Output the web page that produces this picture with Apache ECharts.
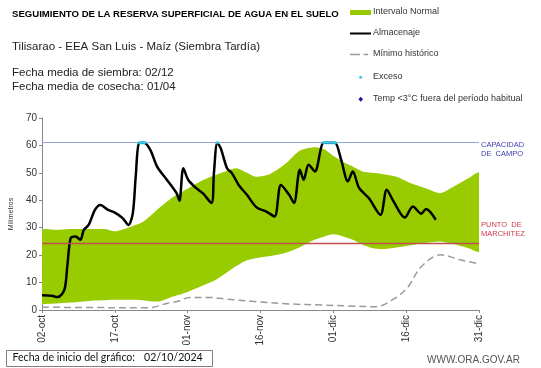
<!DOCTYPE html>
<html><head><meta charset="utf-8">
<script src="https://cdn.jsdelivr.net/npm/echarts@6/dist/echarts.min.js"></script>
<style>html,body{margin:0;padding:0;background:#fff}#c{width:541px;height:368px}</style>
</head><body><div id="c"></div>
<script>
// Tick labels of the x axis (one every 15 days from 02-oct)
const xTickLabels = ['02-oct','17-oct','01-nov','16-nov','01-dic','16-dic','31-dic'];

// Intervalo normal (days since 02-oct)
const bandDays = [0,3,6,10,13,15,18,21,24,27,30,33,36,40,42,44,47,50,53,56,58,60,62,64,66,68,70,73,76,79,82,84,86,88,90];
const bandLow  = [2.2,2.4,2.7,3.4,3.6,3.7,3.7,3.5,3.1,4.9,6.6,8.8,11.2,16.0,18.0,18.9,19.7,20.8,22.8,25.5,26.7,27.6,26.8,25.6,23.8,22.6,22.2,22.8,23.6,24.5,25.0,24.4,23.4,22.4,21.3];
const bandHigh = [29.0,29.2,29.5,29.5,29.5,28.7,30.2,32.4,37.0,41.2,44.2,47.2,49.4,51.7,50.2,48.6,49.6,53.1,58.0,59.3,58.7,56.2,54.0,52.3,50.5,50.0,49.6,48.6,46.2,44.4,42.6,44.2,46.2,48.2,50.0];

// Almacenaje
const storageDays   = [0,2,3.2,4.6,5.2,5.9,6.9,7.9,8.6,9.6,10.9,12,13.6,15,16.6,17.8,18.7,19.3,20,21,22.3,23.7,25.7,27.7,28.3,29.1,30.1,31.7,33.1,34.9,35.4,36.1,36.8,38.1,39.1,40.5,42.2,44.2,46.2,47.9,49.2,50.9,51.9,53.1,53.9,54.9,56.2,57.9,58.9,60.3,61.6,63,64,65.3,67.3,69.7,71,72.4,74.7,76.4,78.1,79.1,81.1];
const storageValues = [5.4,5.2,4.7,7.3,15.8,26.2,26.8,25.6,29.2,31.0,36.5,38.3,36.5,35.5,33.5,31.0,35.3,48.7,60.9,61.0,58.4,52.3,47.5,42.6,39.8,51.7,47.5,44.5,42.6,39.0,49.9,60.9,59.0,51.7,49.9,45.6,42.0,37.4,35.9,34.1,45.6,42.0,39.0,51.1,47.5,53.0,50.5,60.9,61.0,61.0,54.8,46.9,50.5,44.5,40.8,34.7,43.8,39.6,33.7,37.7,35.1,36.8,32.9];

// Mínimo histórico
const minDays   = [0,10,22,25.7,28,30.4,34.4,37.8,44.5,51.2,57.9,63,68.7,72.7,75.4,78.1,82.1,86.1,90];
const minValues = [1.0,0.9,0.8,2.4,3.2,4.6,4.6,4.0,3.0,2.2,1.8,1.5,1.2,4.3,8.5,15.8,20.1,18.3,16.8];

// Exceso
const excessDays   = [20.0,20.4,20.8,21.2,36.1,58.0,58.5,59.0,59.5,60.0,60.4];
const excessValues = [61,61,61,61,61,61,61,61,61,61,61];

// Reference levels
const fieldCapacity = 61;
const wiltingPoint = 24.3;

const pair = (xs, ys) => xs.map((x, i) => [x, ys[i]]);
const GREEN = '#99cc00';
const FONT = 'Liberation Sans, Arial, sans-serif';

const chart = echarts.init(document.getElementById('c'), null, {renderer: 'canvas'});
chart.setOption({
  animation: false,
  backgroundColor: '#fff',
  grid: {left: 32, right: 62, top: 118, bottom: 58, containLabel: false},
  xAxis: {
    type: 'value', min: 0, max: 90, interval: 15,
    splitLine: {show: false},
    axisLine: {show: true, lineStyle: {color: '#888', width: 1}},
    axisTick: {show: true, length: 3, lineStyle: {color: '#888'}},
    axisLabel: {rotate: 90, fontSize: 10, color: '#333', fontFamily: FONT, margin: 5,
      formatter: v => xTickLabels[Math.round(v / 15)] || ''}
  },
  yAxis: {
    type: 'value', min: 0, max: 70, interval: 10,
    name: 'Milímetros', nameLocation: 'middle', nameGap: 26,
    nameTextStyle: {fontSize: 7, color: '#333', fontFamily: FONT},
    splitLine: {show: false},
    axisLine: {show: true, lineStyle: {color: '#888', width: 1}},
    axisTick: {show: true, length: 3, lineStyle: {color: '#888'}},
    axisLabel: {fontSize: 10, color: '#333', fontFamily: FONT, margin: 5}
  },
  series: [
    {name: 'Intervalo Normal', type: 'custom', clip: true, silent: true, z: 1,
     data: [0],
     renderItem: (params, api) => {
       const top = bandDays.map((d, i) => api.coord([d, bandHigh[i]]));
       const bottom = bandDays.map((d, i) => api.coord([d, bandLow[i]])).reverse();
       const pts = top.concat(bottom);
       let minX = Infinity, minY = Infinity, maxX = -Infinity, maxY = -Infinity;
       pts.forEach(p => { minX = Math.min(minX, p[0]); maxX = Math.max(maxX, p[0]); minY = Math.min(minY, p[1]); maxY = Math.max(maxY, p[1]); });
       return {type: 'polygon',
         shape: {points: pts, smooth: 0.25, smoothConstraint: [[minX, minY], [maxX, maxY]]},
         style: {fill: GREEN, stroke: null}};
     }},
    {name: 'Mínimo histórico', type: 'line', data: pair(minDays, minValues),
     symbol: 'none', smooth: 0.35,
     lineStyle: {color: '#9a9a9a', width: 1.5, type: [7, 4]}, z: 3},
    {name: 'Almacenaje', type: 'line', data: pair(storageDays, storageValues),
     symbol: 'none', smooth: 0.3,
     lineStyle: {color: '#000', width: 2.5}, z: 4,
     markLine: {
       silent: true, symbol: 'none', label: {show: false},
       data: [
         {yAxis: fieldCapacity, lineStyle: {color: '#8fa6d6', width: 1, type: 'solid'}},
         {yAxis: wiltingPoint, lineStyle: {color: '#c0504d', width: 1.3, type: 'solid'}}
       ]
     }},
    {name: 'Exceso', type: 'scatter', data: pair(excessDays, excessValues),
     symbol: 'circle', symbolSize: 3.5, itemStyle: {color: '#33ccee'}, z: 5}
  ],
  graphic: [
    {type: 'text', left: 12, top: 9, style: {text: 'SEGUIMIENTO DE LA RESERVA SUPERFICIAL DE AGUA EN EL SUELO', font: 'bold 9.6px ' + FONT, fill: '#000'}},
    {type: 'text', left: 12, top: 41, style: {text: 'Tilisarao - EEA San Luis - Maíz (Siembra Tardía)', font: '11.5px ' + FONT, fill: '#222'}},
    {type: 'text', left: 12, top: 67, style: {text: 'Fecha media de siembra: 02/12', font: '11.5px ' + FONT, fill: '#222'}},
    {type: 'text', left: 12, top: 81, style: {text: 'Fecha media de cosecha: 01/04', font: '11.5px ' + FONT, fill: '#222'}},

    {type: 'rect', shape: {x: 350, y: 10, width: 21, height: 5}, style: {fill: GREEN}},
    {type: 'text', left: 373, top: 7, style: {text: 'Intervalo Normal', font: '9px ' + FONT, fill: '#333'}},
    {type: 'line', shape: {x1: 350, y1: 33.5, x2: 371, y2: 33.5}, style: {stroke: '#000', lineWidth: 2}},
    {type: 'text', left: 373, top: 28, style: {text: 'Almacenaje', font: '9px ' + FONT, fill: '#333'}},
    {type: 'line', shape: {x1: 350, y1: 54.5, x2: 368, y2: 54.5}, style: {stroke: '#9a9a9a', lineWidth: 1.3, lineDash: [10, 3.5]}},
    {type: 'text', left: 373, top: 49, style: {text: 'Mínimo histórico', font: '9px ' + FONT, fill: '#333'}},
    {type: 'circle', shape: {cx: 360.7, cy: 77.3, r: 1.5}, style: {fill: '#33ccee'}},
    {type: 'text', left: 373, top: 72, style: {text: 'Exceso', font: '9px ' + FONT, fill: '#333'}},
    {type: 'polygon', shape: {points: [[360.7, 96.8], [363, 99.3], [360.7, 101.8], [358.4, 99.3]]}, style: {fill: '#1a1a99'}},
    {type: 'text', left: 373, top: 94, style: {text: 'Temp <3°C fuera del período habitual', font: '9px ' + FONT, fill: '#333'}},

    {type: 'text', left: 481, top: 140, style: {text: 'CAPACIDAD\nDE  CAMPO', font: '7.5px ' + FONT, fill: '#3b3bb3', lineHeight: 9}},
    {type: 'text', left: 481, top: 220, style: {text: 'PUNTO  DE\nMARCHITEZ', font: '7.5px ' + FONT, fill: '#d0384a', lineHeight: 9}},

    {type: 'rect', shape: {x: 6.5, y: 350.5, width: 206, height: 16}, style: {fill: '#fff', stroke: '#8a7c7c', lineWidth: 1}},
    {type: 'text', left: 12.5, top: 352, style: {text: 'Fecha de inicio del gráfico:', font: '10.6px Lato, ' + FONT, fill: '#111'}},
    {type: 'text', left: 144, top: 352, style: {text: '02/10/2024', font: '10.6px Lato, ' + FONT, fill: '#111'}},
    {type: 'text', left: 427, top: 355, style: {text: 'WWW.ORA.GOV.AR', font: '10px ' + FONT, fill: '#555'}}
  ]
});
</script></body></html>
